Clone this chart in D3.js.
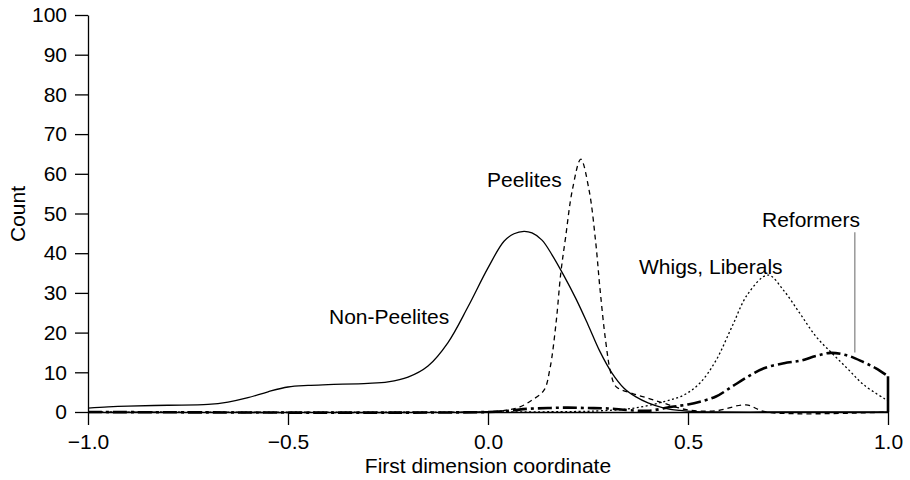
<!DOCTYPE html>
<html>
<head>
<meta charset="utf-8">
<script src="https://cdn.jsdelivr.net/npm/d3@7"></script>
<style>
  body { margin: 0; background: #fff; }
  svg text { font-family: "Liberation Sans", Arial, Helvetica, sans-serif; fill: #000; }
</style>
</head>
<body>
<div id="chart"></div>
<script>
// densidades (coordenada x, conteo)
const nonPeelitesX = [-1, -0.95, -0.9, -0.8, -0.7, -0.65, -0.6, -0.55, -0.5, -0.45, -0.4, -0.3, -0.25, -0.2, -0.15, -0.1, -0.05, 0, 0.04, 0.065, 0.09, 0.11, 0.135, 0.16, 0.19, 0.22, 0.25, 0.28, 0.31, 0.34, 0.37, 0.4, 0.44, 0.48, 0.52, 0.56, 0.7, 0.85, 1.0];
const nonPeelitesY = [1.0, 1.3, 1.5, 1.7, 1.9, 2.5, 3.6, 5.1, 6.3, 6.7, 6.9, 7.2, 7.6, 8.8, 11.6, 17.5, 26.5, 36.3, 43.0, 44.9, 45.5, 45.1, 43.3, 39.6, 34.3, 28.5, 22, 15.2, 9.8, 6.0, 3.8, 2.3, 1.0, 0.4, 0.1, 0, 0, 0, 0];

const peelitesX = [-1, 0, 0.05, 0.08, 0.11, 0.14, 0.155, 0.17, 0.182, 0.194, 0.211, 0.232, 0.2525, 0.269, 0.28, 0.294, 0.307, 0.32, 0.36, 0.4, 0.44, 0.5, 0.57, 0.645, 0.695, 1.0];
const peelitesY = [0, 0.1, 0.5, 1.3, 3, 5.5, 11, 22.3, 35, 44, 56, 63.7, 56, 43, 31, 18, 9.8, 6.4, 4.7, 3.5, 2.2, 0.5, 0.3, 1.8, 0, 0];

const whigsX = [-1, 0.2, 0.28, 0.36, 0.44, 0.49, 0.53, 0.57, 0.61, 0.65, 0.7, 0.74, 0.78, 0.82, 0.86, 0.9, 0.94, 1.0];
const whigsY = [0, 0.1, 0.3, 0.9, 2.6, 4.3, 7.3, 13, 21.5, 29.8, 34.5, 30.5, 24.8, 19, 14.8, 10.8, 6.8, 2.8];

const reformersX = [-1, 0, 0.05, 0.1, 0.15, 0.2, 0.25, 0.3, 0.35, 0.4, 0.46, 0.5, 0.53, 0.57, 0.61, 0.65, 0.69, 0.74, 0.78, 0.82, 0.857, 0.9, 0.94, 0.97, 1.0];
const reformersY = [0, 0, 0.3, 0.8, 1.0, 1.1, 1.0, 0.9, 0.5, 0.3, 1.3, 1.9, 2.6, 3.9, 6.4, 8.9, 11, 12.3, 12.9, 14.1, 14.9, 14.2, 12.5, 11.0, 9.0];

const xTicks = [-1, -0.5, 0, 0.5, 1];
const yTicks = [0, 10, 20, 30, 40, 50, 60, 70, 80, 90, 100];

const margin = {top: 15, right: 21, bottom: 68, left: 88};
const height = 480 - margin.top - margin.bottom;  // 397

const svg = d3.select("#chart")
    .append("svg")
    .attr("width", 910)
    .attr("height", 480);

const g = svg.append("g")
    .attr("transform", "translate(" + margin.left + "," + margin.top + ")");

const x = d3.scaleLinear().domain([-1, 1]).range([0, 800]);
const y = d3.scaleLinear().domain([0, 100]).range([height, 0]);

// ejes
const xAxis = g.append("g")
    .attr("transform", "translate(0," + height + ")")
    .call(d3.axisBottom(x).tickValues(xTicks).tickFormat(d3.format(".1f"))
        .tickSize(13).tickSizeOuter(0).tickPadding(9));

const yAxis = g.append("g")
    .call(d3.axisLeft(y).tickValues(yTicks).tickSize(13).tickSizeOuter(0).tickPadding(8));

[xAxis, yAxis].forEach(a => {
    a.selectAll("text").style("font-size", "21px");
    a.selectAll("path, line").attr("stroke", "#000").attr("stroke-width", 1.3);
});

svg.append("text")
    .attr("x", margin.left + x(0))
    .attr("y", 473)
    .attr("text-anchor", "middle")
    .style("font-size", "21px")
    .text("First dimension coordinate");

svg.append("text")
    .attr("transform", "translate(25,214) rotate(-90)")
    .attr("text-anchor", "middle")
    .style("font-size", "21px")
    .text("Count");

// curvas
const line = d3.line()
    .x(d => x(d[0]))
    .y(d => y(d[1]))
    .curve(d3.curveCatmullRom.alpha(0.5));

function dibujar(xs, ys, dash, ancho) {
    g.append("path")
        .datum(d3.zip(xs, ys))
        .attr("d", line)
        .attr("fill", "none")
        .attr("stroke", "#000")
        .attr("stroke-width", ancho)
        .attr("stroke-dasharray", dash);
}

dibujar(nonPeelitesX, nonPeelitesY, null, 1.3);
dibujar(peelitesX, peelitesY, "5,4", 1.3);
dibujar(whigsX, whigsY, "2,2.5", 1.3);
dibujar(reformersX, reformersY, "14,4,3,4", 2.6);

// caída vertical de Reformers en x = 1
g.append("line")
    .attr("x1", x(1)).attr("x2", x(1))
    .attr("y1", y(reformersY[reformersY.length - 1]))
    .attr("y2", y(0))
    .attr("stroke", "#000")
    .attr("stroke-width", 2.6);

// etiquetas
function etiqueta(texto, xv, yv) {
    g.append("text")
        .attr("x", x(xv))
        .attr("y", y(yv))
        .style("font-size", "21px")
        .text(texto);
}

etiqueta("Peelites", -0.0025, 56.7);
etiqueta("Non-Peelites", -0.3975, 22.2);
etiqueta("Whigs, Liberals", 0.3775, 34.8);
etiqueta("Reformers", 0.685, 46.6);

// línea guía de Reformers
g.append("line")
    .attr("x1", x(0.917)).attr("x2", x(0.917))
    .attr("y1", y(45.3))
    .attr("y2", y(15))
    .attr("stroke", "#999")
    .attr("stroke-width", 1.5);
</script>
</body>
</html>
